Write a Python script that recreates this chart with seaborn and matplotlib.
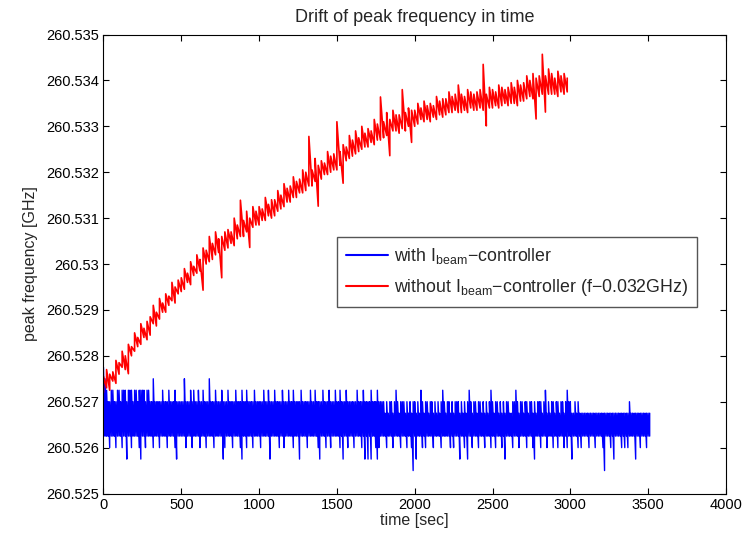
import numpy as np
import pandas as pd
import seaborn as sns
import matplotlib.pyplot as plt
from matplotlib.ticker import FuncFormatter

# red trace (without controller, shifted by -0.032 GHz): low / high reading
# inside each 20 s window, in kHz above 260.525 GHz
red_step = 20
red_hi = [
    2550, 2700, 2600, 2650, 2900,  2850, 3100, 3000, 3250, 3200,
    3500, 3400, 3700, 3600, 3750,  3850, 4100, 3950, 4250, 4150,
    4350, 4300, 4600, 4500, 4650,  4700, 4900, 4800, 5050, 4950,
    5200, 5100, 5350, 5300, 5600,  5450, 5700, 5550, 5600, 5700,
    5750, 5700, 6000, 5850, 6390,  5950, 6150, 6000, 6250, 6150,
    6250, 6200, 6450, 6300, 6400,  6400, 6600, 6500, 6750, 6650,
    6700, 6900, 6800, 6850, 7050,  7000, 7780, 7050, 7300, 7150,
    7250, 7200, 7450, 7350, 7400,  8100, 7450, 7600, 7550, 7800,
    7700, 7900, 7750, 8000, 7850,  7950, 7900, 8150, 8050, 8640,
    8100, 8300, 8150, 8350, 8250,  8250, 8800, 8300, 8400, 8350,
    8350, 8500, 8400, 8550, 8450,  8500, 8450, 8650, 8550, 8600,
    8600, 8750, 8650, 8700, 8900,  8700, 8650, 8800, 8750, 8700,
    8750, 8800, 9350, 8700, 8850,  8800, 8750, 8900, 8850, 8800,
    8850, 8950, 8850, 9000, 8900,  8950, 9100, 9000, 9150, 9050,
    9100, 9570, 9100, 9250, 9150,  9050, 9200, 9100, 9150, 9050,
]
red_lo = [
    2200, 2300, 2250, 2450, 2400,  2600, 2750, 2700, 2610, 3000,
    3100, 3200, 3250, 3400, 3350,  3450, 3700, 3650, 3800, 3950,
    3950, 4100, 4200, 4150, 4350,  4400, 4450, 4600, 4550, 4750,
    4800, 4850, 4430, 5000, 5050,  5100, 5200, 5250, 4700, 5300,
    5350, 5450, 5400, 5550, 5600,  5600, 5700, 5360, 5800, 5850,
    5850, 5950, 5950, 6050, 6000,  6050, 6150, 6200, 6250, 6350,
    6350, 6450, 6450, 6550, 6550,  6600, 6700, 6700, 6800, 6260,
    6850, 6950, 6950, 7000, 7050,  7050, 7150, 6760, 7250, 7300,
    7350, 7400, 7450, 7500, 7550,  7550, 7650, 7600, 7700, 7700,
    7750, 7800, 7360, 7900, 7900,  7850, 7950, 7900, 8000, 7650,
    8000, 8050, 8150, 8100, 8150,  8100, 8200, 8150, 8250, 8200,
    8250, 8300, 8300, 8350, 8300,  8300, 8350, 8300, 8400, 8350,
    8350, 8400, 8350, 8010, 8400,  8400, 8450, 8400, 8450, 8500,
    8450, 8500, 8500, 8450, 8550,  8550, 8600, 8650, 8600, 8160,
    8650, 8700, 8310, 8700, 8700,  8700, 8650, 8750, 8700, 8750,
]

# blue trace (with controller): the readout is quantised, so each 10 s window
# stores the index of its lowest and highest level
blue_step = 10
blue_levels = [260.5255, 260.52575, 260.526, 260.52625, 260.5265,
               260.52675, 260.527, 260.52725, 260.5275, 260.52775]
blue_hi = (
    "9876677667" "7677767776" "7767777677" "6686666676" "6676667666"
    "6686667676" "6766766686" "6676667666" "7666676667" "6676666766"
    "6667667666" "7666676667" "6676666766" "6667667666" "6766676667"
    "6676667666" "6667666766" "6676667666" "6565665676" "5666565656"
    "6565765665" "6656565676" "5665656665" "6565676566" "5665656567"
    "6566565656" "6556676566" "5665665656" "6656756566" "5665665676"
    "6556565555" "5555555555" "5555555555" "5555555565" "5555555555"
    "55"
)
blue_lo = (
    "3333233323" "3323313323" "3332133233" "3323332333" "3233332133"
    "3332333233" "3323332333" "3233333123" "3332333321" "3323332333"
    "3233333133" "3332332333" "3323331333" "3233333321" "3332332333"
    "3323133233" "3233332313" "1313321233" "3323332333" "3233323320"
    "3133323233" "3323333233" "3332323331" "3323133233" "3233323332"
    "3323332313" "3332333233" "3323332133" "3233323332" "3323332323"
    "3133323233" "3323332333" "3203332313" "3332323233" "3313323332"
    "33"
)

y_ticks = [260.525, 260.526, 260.527, 260.528, 260.529, 260.530,
           260.531, 260.532, 260.533, 260.534, 260.535]
x_ticks = [0, 500, 1000, 1500, 2000, 2500, 3000, 3500, 4000]


def band_frame(step, lo, hi):
    # walk low -> high inside every window so the trace fills its band
    t = np.repeat(np.arange(len(lo)) * step, 2)
    f = np.column_stack((lo, hi)).ravel()
    return pd.DataFrame({"t": t, "f": f})


blue = band_frame(blue_step,
                  [blue_levels[int(c)] for c in blue_lo],
                  [blue_levels[int(c)] for c in blue_hi])
red = band_frame(red_step,
                 260.525 + np.array(red_lo) * 1e-6,
                 260.525 + np.array(red_hi) * 1e-6)

sns.set_style("ticks")
plt.rcParams["font.family"] = ["Liberation Sans", "DejaVu Sans"]
plt.rcParams["mathtext.fontset"] = "custom"
plt.rcParams["mathtext.rm"] = "Liberation Sans"
plt.rcParams["mathtext.it"] = "Liberation Sans"

fig = plt.figure(figsize=(7.46, 5.37), dpi=100)
ax = fig.add_axes([0.1387, 0.081, 0.8344, 0.8547])

sns.lineplot(data=blue, x="t", y="f", color="#0000ff", lw=1.0, ax=ax,
             estimator=None, sort=False, label=r"with I$_{\rm beam}$−controller")
sns.lineplot(data=red, x="t", y="f", color="#ff0000", lw=1.2, ax=ax,
             estimator=None, sort=False,
             label=r"without I$_{\rm beam}$−controller (f−0.032GHz)")

ax.set_xlim(0, 4000)
ax.set_ylim(260.525, 260.535)
ax.set_xticks(x_ticks)
ax.set_yticks(y_ticks)
ax.yaxis.set_major_formatter(FuncFormatter(lambda v, p: f"{v:.9g}"))
ax.tick_params(direction="in", top=True, right=True, length=4, width=0.8,
               labelsize=10.5, pad=3, colors="black")
for s in ax.spines.values():
    s.set_color("black")
    s.set_linewidth(0.8)

ax.set_title("Drift of peak frequency in time", fontsize=13, pad=9)
ax.set_xlabel("time [sec]", fontsize=11.5, labelpad=1)
ax.set_ylabel("peak frequency [GHz]", fontsize=11.5, labelpad=6)

leg = ax.legend(loc="upper left", bbox_to_anchor=(0.375, 0.559), fontsize=12.8,
                frameon=True, fancybox=False, framealpha=1, handlelength=2.4,
                borderpad=0.5, labelspacing=0.65, handletextpad=0.3,
                borderaxespad=0)
leg.get_frame().set_edgecolor("#555555")
leg.get_frame().set_linewidth(1.0)
for line in leg.get_lines():
    line.set_linewidth(1.5)

fig.savefig("out.png", dpi=100)
